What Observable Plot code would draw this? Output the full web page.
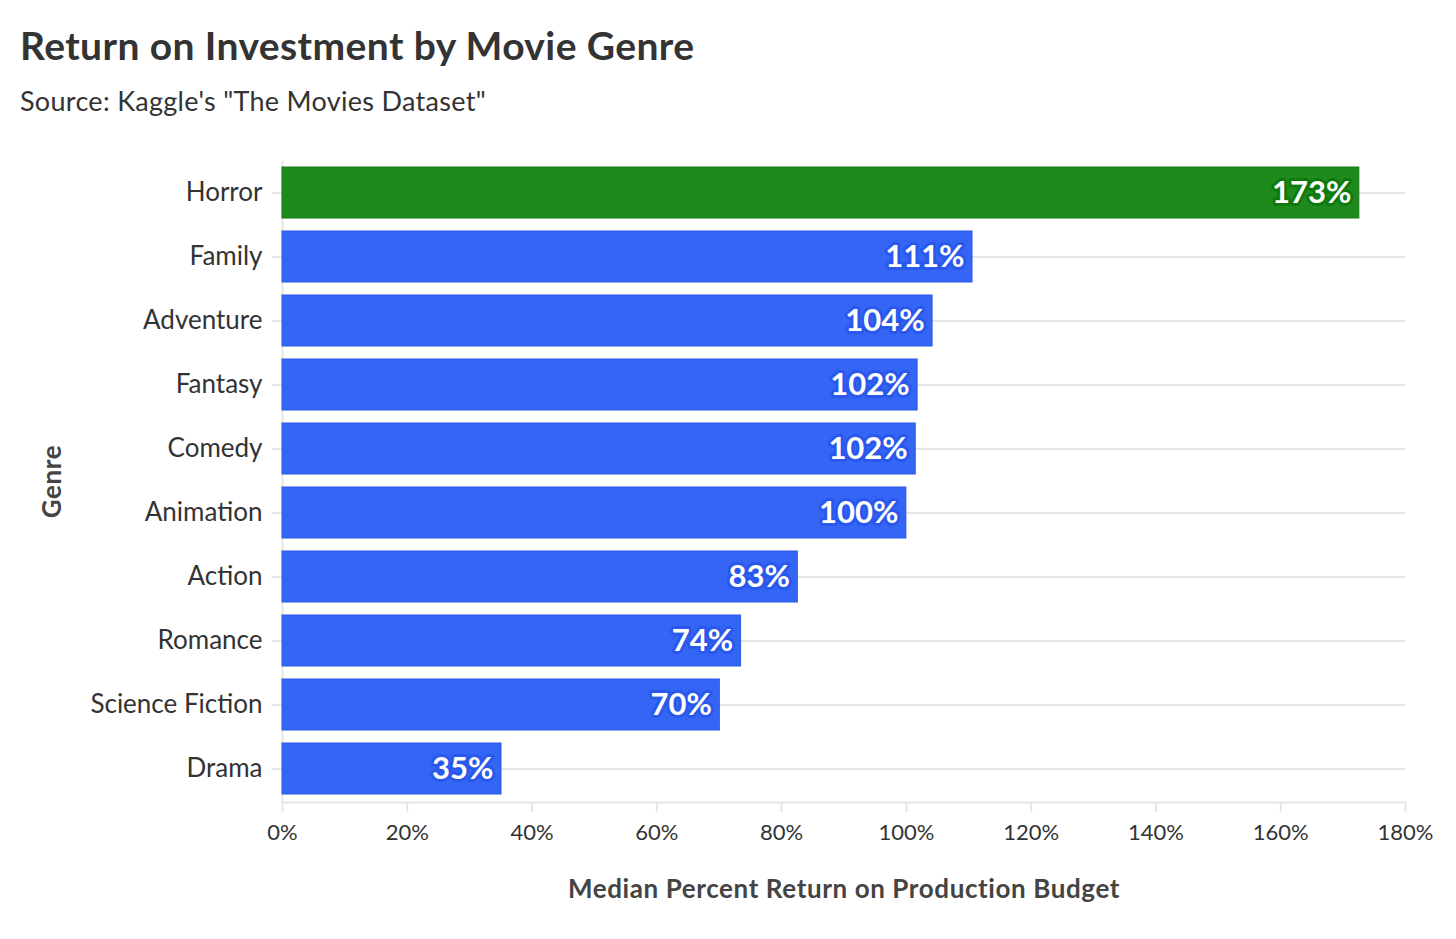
<!DOCTYPE html>
<html>
<head>
<meta charset="utf-8">
<script src="https://cdn.jsdelivr.net/npm/d3@7"></script>
<script src="https://cdn.jsdelivr.net/npm/@observablehq/plot@0.6"></script>
<style>
  html, body { margin: 0; padding: 0; background: #fff; }
  body { width: 1456px; height: 939px; overflow: hidden; font-family: Lato, "Noto Sans", sans-serif; color: #333; }
  #title { position: absolute; left: 20px; top: 22px; font-size: 39px; font-weight: 700; color: #333; letter-spacing: 0.4px; }
  #subtitle { position: absolute; left: 20px; top: 84px; font-size: 27px; color: #333; letter-spacing: 0.3px; }
  #chart { position: absolute; left: 0; top: 140px; }
</style>
</head>
<body>
<div id="title">Return on Investment by Movie Genre</div>
<div id="subtitle">Source: Kaggle's "The Movies Dataset"</div>
<div id="chart"></div>
<script>
const genres = ["Horror", "Family", "Adventure", "Fantasy", "Comedy", "Animation", "Action", "Romance", "Science Fiction", "Drama"];
const medianReturn = [172.6, 110.6, 104.2, 101.8, 101.5, 100.0, 82.6, 73.5, 70.1, 35.1];
const highlightGenre = "Horror";
const xTicks = [0, 20, 40, 60, 80, 100, 120, 140, 160, 180];

const data = genres.map((g, i) => ({genre: g, value: medianReturn[i], hi: g === highlightGenre}));
const fillOf = d => d.hi ? "#1e8a1e" : "#3565f5";
const strokeOf = d => d.hi ? "#157a15" : "#2c5ae8";
const haloOf = d => d.hi ? "#0e7a0e" : "#2a58ec";

const chart = Plot.plot({
  width: 1456,
  height: 790,
  marginTop: 20,
  marginLeft: 282,
  marginRight: 51,
  marginBottom: 128,
  style: {fontFamily: "Lato, 'Noto Sans', sans-serif", fontSize: "23px", color: "#333", background: "#fff"},
  x: {domain: [0, 180]},
  y: {domain: genres, paddingInner: 0.2, paddingOuter: 0.1},
  marks: [
    Plot.gridY({stroke: "#e6e6e6", strokeOpacity: 1, strokeWidth: 2}),
    Plot.axisY({label: "Genre", labelAnchor: "center", labelArrow: false, labelOffset: 240, tickSize: 10, tickPadding: 10, stroke: "#e6e6e6", strokeWidth: 2, fontSize: 26, color: "#333"}),
    Plot.axisX({ticks: xTicks, tickFormat: d => d + "%", label: "Median Percent Return on Production Budget", labelAnchor: "center", labelArrow: false, labelOffset: 95, tickSize: 10, tickPadding: 12, stroke: "#e6e6e6", strokeWidth: 2, fontSize: 22, color: "#333"}),
    Plot.frame({anchor: "bottom", stroke: "#e6e6e6", strokeWidth: 2}),
    Plot.ruleX([0], {stroke: "#e6e6e6", strokeWidth: 2}),
    Plot.barX(data, {x: "value", y: "genre", fill: fillOf, stroke: strokeOf, strokeWidth: 1}),
    Plot.text(data, {x: "value", y: "genre", text: d => Math.round(d.value) + "%", textAnchor: "end", dx: -8, fill: "white", stroke: haloOf, strokeWidth: 6, fontSize: 31, fontWeight: 700})
  ]
});
document.getElementById("chart").append(chart);
// style axis labels
chart.querySelectorAll("[aria-label='y-axis label'] text, [aria-label='x-axis label'] text").forEach(t => {
  t.setAttribute("font-weight", "700");
  t.setAttribute("font-size", "26");
  t.setAttribute("letter-spacing", "0.6");
  t.setAttribute("fill", "#444");
});
</script>
</body>
</html>
